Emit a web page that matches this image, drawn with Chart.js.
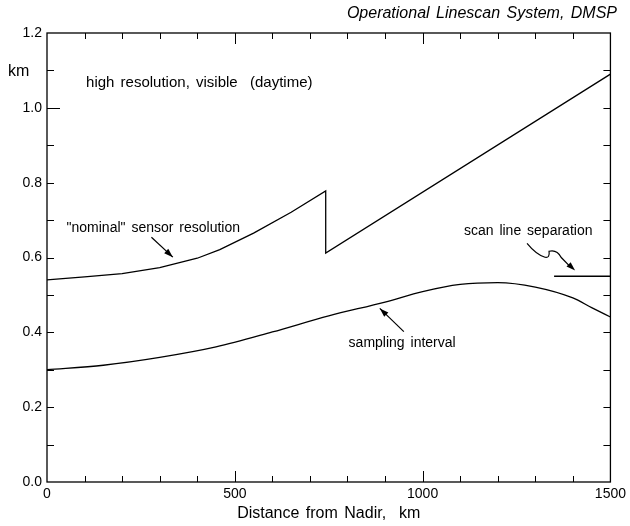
<!DOCTYPE html>
<html>
<head>
<meta charset="utf-8">
<script src="https://cdn.jsdelivr.net/npm/chart.js@4"></script>
<style>
  html, body { margin: 0; padding: 0; background: #fff; }
  canvas { display: block; }
</style>
</head>
<body>
<canvas id="olsChart" width="630" height="526"></canvas>
<script>
// values (km vs distance from nadir, km)
const distNominal = [0, 100, 200, 300, 400, 460, 550, 650, 742, 742, 1500];
const kmNominal = [0.540, 0.548, 0.557, 0.573, 0.598, 0.621, 0.665, 0.721, 0.778, 0.612, 1.090];

const distSampling = [0, 150, 300, 450, 600, 750, 900, 1000, 1100, 1200, 1300, 1400, 1450, 1500];
const kmSampling = [0.300, 0.312, 0.333, 0.361, 0.401, 0.444, 0.481, 0.509, 0.528, 0.533, 0.521, 0.492, 0.466, 0.441];

const distScanLine = [1350, 1500];
const kmScanLine = [0.550, 0.550];

const xTickLabels = [0, 500, 1000, 1500];
const yTickLabels = [0.0, 0.2, 0.4, 0.6, 0.8, 1.0, 1.2];

const FONT = "'Liberation Sans', Arial, Helvetica, sans-serif";

function toPoints(xs, ys) {
    return xs.map((x, i) => ({ x: x, y: ys[i] }));
}

// frame, inward ticks, annotations and arrows
const decorations = {
    id: "decorations",
    beforeDraw(chart) {
        chart.ctx.wordSpacing = "2px";
    },
    afterDraw(chart) {
        const ctx = chart.ctx;
        const area = chart.chartArea;
        const xs = chart.scales.x;
        const ys = chart.scales.y;
        const px = v => xs.getPixelForValue(v);
        const py = v => ys.getPixelForValue(v);

        ctx.save();
        ctx.strokeStyle = "#000";
        ctx.fillStyle = "#000";
        ctx.lineWidth = 1.3;
        ctx.strokeRect(area.left, area.top, area.right - area.left, area.bottom - area.top);

        // ticks on all four sides, pointing inward
        ctx.lineWidth = 1;
        ctx.beginPath();
        for (let d = 100; d < 1500; d += 100) {
            let len = d % 500 === 0 ? 11 : 6;
            let x = Math.round(px(d)) + 0.5;
            ctx.moveTo(x, area.bottom); ctx.lineTo(x, area.bottom - len);
            ctx.moveTo(x, area.top); ctx.lineTo(x, area.top + len);
        }
        for (let k = 1; k < 12; k++) {
            let y = Math.round(py(k / 10)) + 0.5;
            let len = k === 10 ? 13 : 7;
            ctx.moveTo(area.left, y); ctx.lineTo(area.left + len, y);
            ctx.moveTo(area.right, y); ctx.lineTo(area.right - 7, y);
        }
        ctx.stroke();

        // texts
        ctx.textBaseline = "middle";
        ctx.textAlign = "left";
        ctx.font = "16px " + FONT;
        ctx.fillText("km", 8, py(1.1) + 1);

        ctx.font = "15px " + FONT;
        ctx.fillText("high resolution, visible  (daytime)", px(104), py(1.066));
        ctx.font = "14px " + FONT;
        ctx.fillText("\"nominal\" sensor resolution", px(52), py(0.679));
        ctx.fillText("scan line separation", px(1110), py(0.671));
        ctx.fillText("sampling interval", px(803), py(0.371));

        ctx.font = "italic 16px " + FONT;
        ctx.textAlign = "right";
        ctx.fillText("Operational Linescan System, DMSP", 617, 14);

        // arrows
        function arrowHead(x1, y1, x2, y2) {
            const a = Math.atan2(y2 - y1, x2 - x1);
            const L = 9, W = 3;
            ctx.beginPath();
            ctx.moveTo(x2, y2);
            ctx.lineTo(x2 - L * Math.cos(a) + W * Math.sin(a), y2 - L * Math.sin(a) - W * Math.cos(a));
            ctx.lineTo(x2 - L * Math.cos(a) - W * Math.sin(a), y2 - L * Math.sin(a) + W * Math.cos(a));
            ctx.closePath();
            ctx.fill();
        }
        function arrow(x1, y1, x2, y2) {
            ctx.beginPath();
            ctx.moveTo(x1, y1); ctx.lineTo(x2, y2);
            ctx.stroke();
            arrowHead(x1, y1, x2, y2);
        }
        ctx.lineWidth = 1.2;
        arrow(px(278), py(0.654), px(335), py(0.601));
        arrow(px(950), py(0.402), px(886), py(0.464));

        // wavy arrow to the scan line
        const sx = px(1278), sy = py(0.638);
        const tx = px(1406), ty = py(0.565);
        ctx.beginPath();
        ctx.moveTo(sx, sy);
        ctx.quadraticCurveTo(sx + 9, sy + 11, sx + 18, sy + 14);
        ctx.quadraticCurveTo(sx + 23, sy + 15, sx + 22, sy + 8);
        ctx.quadraticCurveTo(sx + 30, sy + 6, sx + 34, sy + 14);
        ctx.lineTo(tx - 4, ty - 3);
        ctx.stroke();
        arrowHead(sx + 34, sy + 14, tx, ty);
        ctx.restore();
    }
};

const ctx = document.getElementById("olsChart").getContext("2d");

new Chart(ctx, {
    type: "line",
    data: {
        datasets: [{
            label: "nominal sensor resolution",
            data: toPoints(distNominal, kmNominal),
            borderColor: "#000",
            borderWidth: 1.3,
            pointRadius: 0,
            tension: 0,
            fill: false
        }, {
            label: "sampling interval",
            data: toPoints(distSampling, kmSampling),
            borderColor: "#000",
            borderWidth: 1.3,
            pointRadius: 0,
            cubicInterpolationMode: "monotone",
            fill: false
        }, {
            label: "scan line separation",
            data: toPoints(distScanLine, kmScanLine),
            borderColor: "#000",
            borderWidth: 1.5,
            pointRadius: 0,
            tension: 0,
            fill: false
        }]
    },
    options: {
        responsive: false,
        animation: false,
        events: [],
        layout: { padding: { left: 0, top: 33, right: 18, bottom: 0 } },
        plugins: {
            legend: { display: false },
            tooltip: { enabled: false }
        },
        scales: {
            x: {
                type: "linear",
                min: 0,
                max: 1500,
                afterBuildTicks: scale => { scale.ticks = xTickLabels.map(v => ({ value: v })); },
                afterFit: scale => { scale.height = 44; },
                grid: { display: false, drawTicks: false },
                border: { display: false },
                ticks: {
                    color: "#000",
                    font: { family: FONT, size: 14 },
                    padding: 4,
                    maxRotation: 0,
                    callback: v => String(v)
                },
                title: {
                    display: true,
                    text: "Distance from Nadir,  km",
                    color: "#000",
                    font: { family: FONT, size: 16 },
                    padding: { top: 0, bottom: 3 }
                }
            },
            y: {
                type: "linear",
                min: 0,
                max: 1.2,
                afterBuildTicks: scale => { scale.ticks = yTickLabels.map(v => ({ value: v })); },
                afterFit: scale => { scale.width = 47; },
                grid: { display: false, drawTicks: false },
                border: { display: false },
                ticks: {
                    color: "#000",
                    font: { family: FONT, size: 14 },
                    padding: 5,
                    callback: v => v.toFixed(1)
                }
            }
        }
    },
    plugins: [decorations]
});
</script>
</body>
</html>
